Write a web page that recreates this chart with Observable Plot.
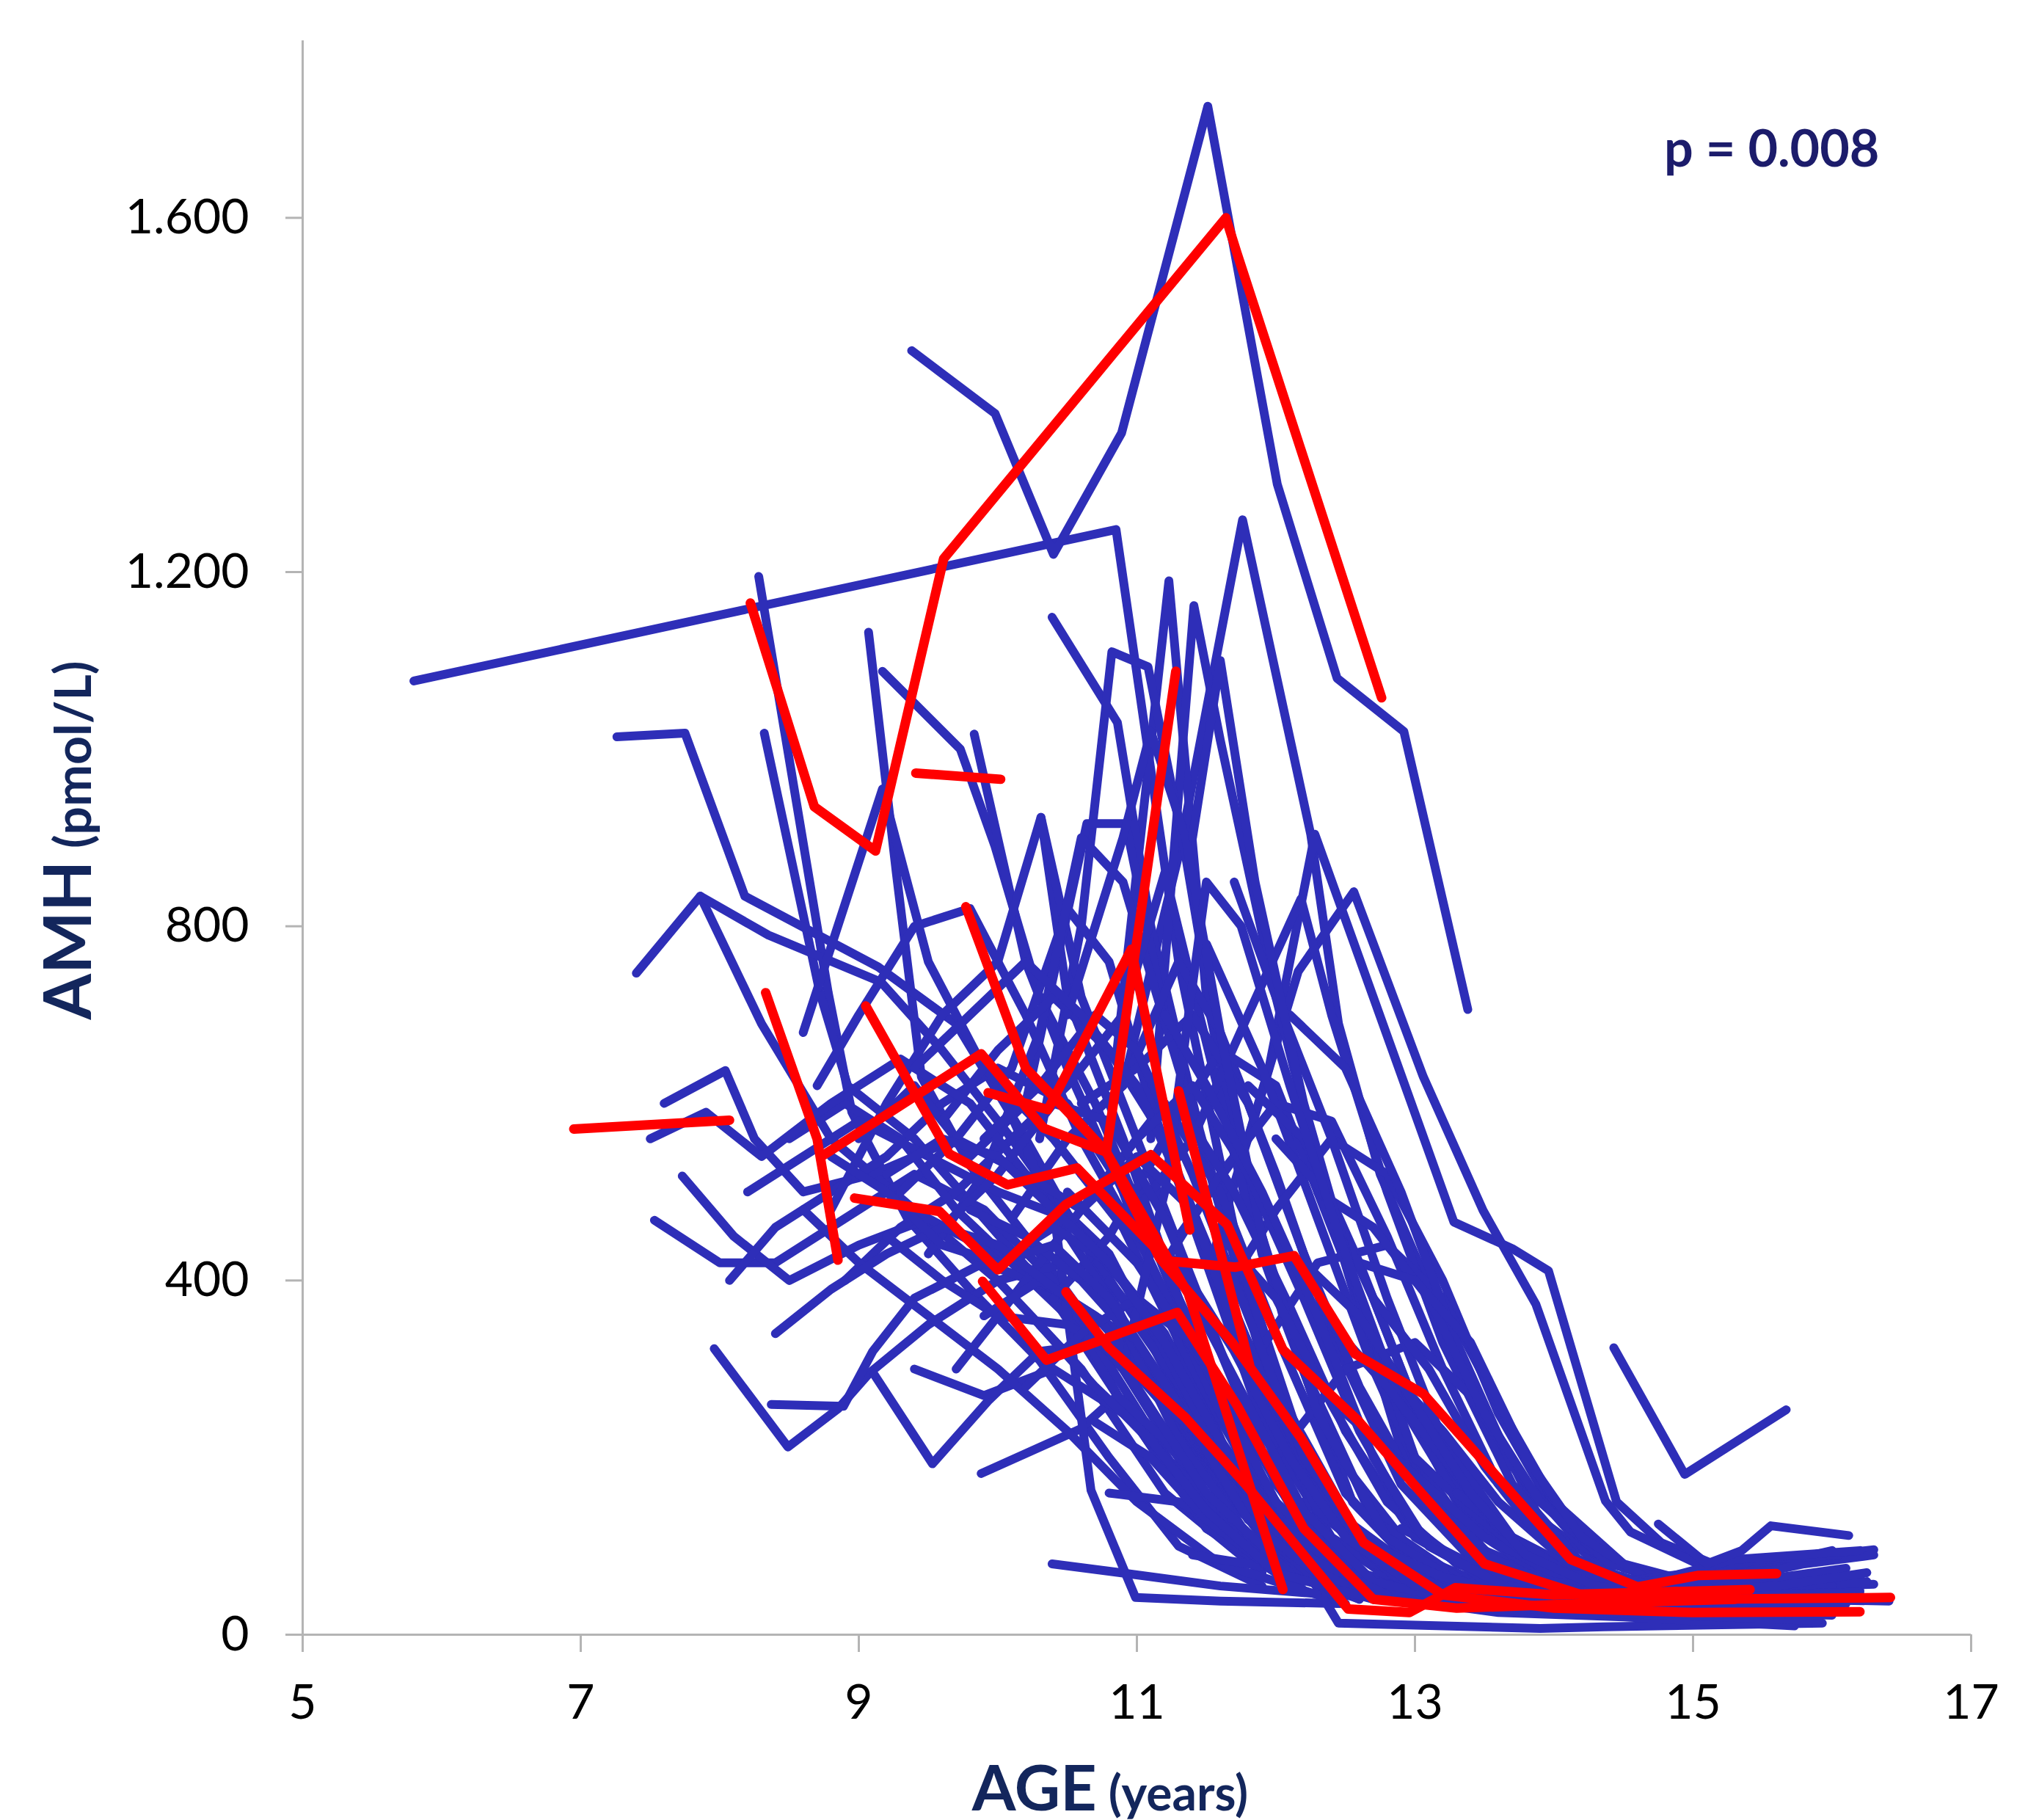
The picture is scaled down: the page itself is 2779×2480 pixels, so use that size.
<!DOCTYPE html>
<html><head><meta charset="utf-8">
<script src="https://cdn.jsdelivr.net/npm/d3@7"></script>
<script src="https://cdn.jsdelivr.net/npm/@observablehq/plot@0.6"></script>
<style>html,body{margin:0;padding:0;background:#fff;} #chart svg{display:block}</style>
</head><body><div id="chart"></div>
<script>
const ageTicks = [5, 7, 9, 11, 13, 15, 17];
const amhTicks = [0, 400, 800, 1200, 1600];
const pValueText = "p = 0.008";

// Blue: individual longitudinal AMH series [age, AMH]
const blueSeries = [
  [[5.80,1077],[10.85,1248],[11.30,760],[11.75,420],[12.30,160],[12.90,60],[13.6,40]],
  [[9.38,1450],[9.98,1379],[10.40,1220],[10.89,1357],[11.51,1726],[12.01,1299],[12.44,1080],[12.92,1020],[13.38,706]],
  [[10.90,620],[11.30,880],[11.76,1259],[12.25,904],[12.45,690],[12.75,520],[13.30,320],[13.90,130],[14.50,60],[15.20,40],[15.90,35]],
  [[11.55,430],[11.95,640],[12.28,904],[13.28,466],[13.70,436],[13.96,411],[14.45,150],[14.77,104],[15.30,70],[16.00,95]],
  [[11.30,450],[11.80,560],[12.16,749],[12.56,839],[13.06,630],[13.49,479],[13.87,373],[14.37,151],[14.55,116],[15.10,75],[16.30,96]],
  [[14.43,324],[14.94,181],[15.67,254]],
  [[10.85,650],[11.23,1190],[11.50,720],[11.90,430],[12.40,210],[13.00,90],[13.60,50],[14.30,30]],
  [[11.10,560],[11.41,1162],[11.60,1010],[12.00,720],[12.40,470],[12.90,210],[13.50,95],[14.20,50],[15.00,35]],
  [[10.39,1149],[10.86,1030],[11.10,800],[11.45,570],[11.90,310],[12.50,130],[13.20,50],[14.0,30]],
  [[10.30,560],[10.60,800],[10.82,1110],[11.08,1093],[11.35,880],[11.65,600],[12.05,360],[12.55,150],[13.10,60],[14.0,40]],
  [[8.28,1195],[8.78,725],[8.95,590],[9.35,470],[9.80,390],[10.30,310],[10.80,200],[11.30,100],[11.90,55]],
  [[8.32,1018],[8.72,725],[8.92,620],[9.40,560],[9.90,470],[10.40,380],[10.90,260],[11.50,120],[12.20,50]],
  [[9.07,1132],[9.27,860],[9.45,630],[9.80,530],[10.30,430],[10.90,300],[11.50,150],[12.20,60]],
  [[9.17,1088],[9.73,1000],[9.98,890],[10.30,720],[10.70,600],[11.10,450],[11.60,250],[12.20,100],[12.90,50]],
  [[9.83,1017],[10.20,760],[10.50,640],[10.90,500],[11.30,330],[11.80,150],[12.40,60]],
  [[10.31,923],[10.50,720],[10.90,560],[11.30,380],[11.80,180],[12.40,70],[13.10,40]],
  [[7.26,1014],[7.75,1018],[8.18,834],[9.14,754],[9.70,690],[10.20,560],[10.70,420],[11.20,260],[11.80,110],[12.50,50]],
  [[7.40,747],[7.86,834],[8.30,690],[8.80,560],[9.40,480],[10.0,400],[10.60,300],[11.20,160],[11.90,70]],
  [[7.86,834],[8.35,790],[9.16,737],[9.60,660],[10.10,560],[10.60,450],[11.10,330],[11.60,180],[12.20,80],[12.90,45]],
  [[7.53,468],[8.0,420],[8.40,420],[8.90,470],[9.40,520],[9.90,480],[10.40,400],[10.90,260],[11.50,120],[12.20,50]],
  [[7.73,518],[8.10,450],[8.50,400],[9.00,440],[9.50,470],[10.10,420],[10.70,330],[11.30,180],[11.90,80],[12.60,40]],
  [[7.60,600],[8.04,637],[8.25,560],[8.60,500],[9.10,520],[9.70,560],[10.20,520],[10.80,430],[11.40,250],[12.00,110],[12.70,50]],
  [[7.96,323],[8.49,212],[8.85,255],[9.08,296],[9.50,350],[10.00,400],[10.50,420],[11.00,330],[11.60,160],[12.30,60]],
  [[8.37,260],[8.89,258],[9.10,320],[9.40,380],[9.90,420],[10.40,390],[10.90,300],[11.50,150],[12.10,60]],
  [[9.11,294],[9.53,193],[9.93,264],[10.30,320],[10.80,330],[11.30,240],[11.90,110],[12.50,50]],
  [[9.88,182],[10.59,232],[10.86,270],[11.20,220],[11.70,120],[12.30,55]],
  [[10.39,80],[10.93,69],[11.60,55],[12.40,45],[13.20,40]],
  [[10.00,620],[10.40,480],[10.67,163],[10.99,42],[11.60,38],[12.50,35]],
  [[8.07,400],[8.40,460],[8.80,500],[9.20,540],[9.60,600],[10.00,640],[10.50,600],[11.00,480],[11.60,280],[12.20,120],[12.80,50]],
  [[8.60,680],[9.17,955],[9.50,760],[9.90,640],[10.40,560],[10.90,460],[11.40,300],[12.00,130],[12.70,55]],
  [[8.70,620],[9.00,700],[9.40,800],[9.80,820],[10.20,700],[10.60,560],[11.10,420],[11.60,250],[12.20,100],[12.90,45]],
  [[8.80,480],[9.20,600],[9.60,700],[10.00,760],[10.31,923],[10.60,720],[11.00,560],[11.50,360],[12.00,170],[12.60,70],[13.30,40]],
  [[9.00,560],[9.40,620],[9.80,540],[10.20,600],[10.64,916],[10.92,916],[11.20,700],[11.60,480],[12.00,280],[12.50,120],[13.20,50]],
  [[9.30,500],[9.70,560],[10.10,640],[10.50,820],[10.80,760],[11.10,600],[11.50,420],[11.90,240],[12.40,110],[13.00,50],[13.8,30]],
  [[9.50,430],[9.90,520],[10.30,680],[10.60,900],[10.90,850],[11.30,640],[11.70,440],[12.10,250],[12.60,110],[13.30,45]],
  [[8.90,400],[9.30,460],[9.70,500],[10.10,560],[10.50,620],[10.90,700],[11.20,860],[11.45,700],[11.80,480],[12.20,300],[12.70,130],[13.40,55],[14.20,35]],
  [[9.60,580],[10.00,660],[10.40,720],[10.80,660],[11.20,560],[11.60,400],[12.00,260],[12.50,120],[13.10,55],[13.9,30]],
  [[8.50,560],[8.90,600],[9.30,560],[9.70,480],[10.10,420],[10.50,380],[10.90,340],[11.40,230],[12.00,100],[12.70,40]],
  [[9.20,450],[9.60,400],[10.00,360],[10.50,350],[11.00,300],[11.50,200],[12.10,90],[12.80,40]],
  [[9.70,300],[10.10,380],[10.50,460],[10.90,540],[11.20,600],[11.60,500],[12.00,340],[12.50,160],[13.10,60],[13.9,35]],
  [[10.10,470],[10.50,560],[10.90,620],[11.30,760],[11.60,680],[12.00,520],[12.40,340],[12.90,170],[13.50,70],[14.30,40]],
  [[10.40,380],[10.80,450],[11.20,560],[11.60,660],[12.00,620],[12.40,460],[12.80,300],[13.30,150],[13.90,70],[14.60,40],[15.40,30]],
  [[10.60,600],[11.00,640],[11.40,700],[11.80,600],[12.20,430],[12.60,280],[13.10,140],[13.70,65],[14.40,40],[15.20,30]],
  [[11.00,480],[11.40,560],[11.80,700],[12.18,831],[12.40,700],[12.80,500],[13.20,330],[13.70,170],[14.20,80],[14.90,45],[15.70,35]],
  [[11.20,420],[11.60,520],[12.00,600],[12.40,580],[12.80,450],[13.20,300],[13.60,170],[14.10,90],[14.70,50],[15.50,40],[16.22,69]],
  [[11.60,380],[12.00,480],[12.40,560],[12.80,520],[13.20,400],[13.60,250],[14.00,140],[14.50,75],[15.10,50],[16.30,57]],
  [[11.80,300],[12.30,420],[12.80,440],[13.20,380],[13.60,260],[14.00,150],[14.50,80],[15.10,55],[16.16,41]],
  [[12.00,200],[12.50,300],[13.00,330],[13.40,270],[13.80,170],[14.30,90],[14.90,55],[15.60,40],[16.41,38]],
  [[10.80,400],[11.20,320],[11.60,220],[12.00,130],[12.45,13],[13.90,7],[14.36,9],[15.93,13]],
  [[11.00,350],[11.40,260],[11.80,160],[12.30,80],[12.90,40],[13.60,25],[14.50,20],[15.73,10]],
  [[10.50,500],[11.00,420],[11.50,300],[12.00,150],[12.60,60],[13.30,35],[14.20,25],[15.20,20],[15.90,16]],
  [[11.30,600],[11.70,500],[12.10,370],[12.50,230],[13.00,110],[13.60,55],[14.40,35],[15.30,25],[16.00,22]],
  [[11.50,780],[11.90,640],[12.30,470],[12.70,300],[13.10,160],[13.60,80],[14.30,45],[15.10,35],[15.90,30]],
  [[11.70,850],[12.00,720],[12.40,560],[12.80,380],[13.20,220],[13.70,110],[14.30,60],[15.00,40],[15.80,35]],
  [[12.10,700],[12.50,640],[12.90,500],[13.30,330],[13.70,190],[14.20,100],[14.80,55],[15.50,45],[16.20,50]],
  [[11.80,620],[12.20,560],[12.60,420],[13.00,260],[13.40,140],[13.90,70],[14.60,45],[15.40,40],[16.10,45]],
  [[12.30,500],[12.70,460],[13.10,380],[13.50,250],[13.90,150],[14.40,80],[15.00,55],[15.80,50]],
  [[12.60,420],[13.00,400],[13.40,330],[13.80,200],[14.20,110],[14.70,60],[15.30,45],[16.00,40]],
  [[12.00,560],[12.35,500],[12.70,380],[13.10,220],[13.50,110],[14.00,60],[14.70,40],[15.50,30]],
  [[9.40,300],[9.90,270],[10.40,300],[10.90,250],[11.40,170],[12.00,80],[12.70,40],[13.50,30]],
  [[8.60,480],[9.00,420],[9.50,360],[10.00,300],[10.50,230],[11.00,150],[11.60,80],[12.30,45]],
  [[9.90,360],[10.30,400],[10.70,360],[11.10,290],[11.60,180],[12.20,80],[12.90,40]],
  [[10.20,280],[10.60,340],[11.00,380],[11.40,330],[11.80,230],[12.30,120],[12.90,55],[13.60,35]],
  [[10.80,160],[11.30,150],[11.80,110],[12.40,60],[13.10,40],[14.00,30],[15.00,25],[15.69,23]],
  [[11.40,90],[12.00,75],[12.60,60],[13.30,50],[14.10,40],[15.00,38],[16.25,60]],
  [[10.50,700],[10.90,900],[11.10,1020],[11.35,900],[11.60,680],[11.90,450],[12.30,250],[12.80,110],[13.40,50],[14.2,35]],
  [[11.40,900],[11.60,1100],[11.85,850],[12.20,600],[12.60,380],[13.00,200],[13.50,90],[14.10,50]],
  [[10.90,300],[11.20,500],[11.50,850],[11.75,800],[12.10,620],[12.50,430],[12.90,260],[13.40,130],[14.00,65],[14.80,40]],
  [[12.50,250],[13.00,180],[13.50,110],[14.00,70],[14.60,55],[15.20,60],[15.80,80],[16.30,90]],
  [[12.80,300],[13.20,230],[13.60,150],[14.00,95],[14.50,60],[15.00,70],[15.50,85],[16.05,90]],
  [[13.00,200],[13.40,140],[13.80,90],[14.30,60],[14.80,45],[15.40,60],[16.10,75]],
  [[12.20,150],[12.70,100],[13.20,65],[13.80,45],[14.50,35],[15.20,30],[16.00,28]],
  [[13.30,160],[13.70,110],[14.20,70],[14.70,60],[15.30,85],[16.20,95]],
  [[12.90,120],[13.40,80],[14.00,55],[14.60,40],[15.30,45],[16.00,55]],
  [[14.75,125],[15.10,80],[15.35,95],[15.56,123],[16.12,112]],
  [[7.50,560],[7.90,590],[8.30,540],[8.80,600],[9.30,650],[9.80,600],[10.30,500],[10.80,380],[11.30,220],[11.90,90],[12.60,40]],
  [[8.20,500],[8.60,540],[9.00,580],[9.50,540],[10.00,500],[10.50,470],[11.00,380],[11.50,230],[12.10,90],[12.80,40]],
  [[9.60,460],[10.00,520],[10.40,600],[10.80,580],[11.20,470],[11.60,320],[12.00,170],[12.50,70],[13.20,35]],
  [[10.20,520],[10.60,480],[11.00,540],[11.40,480],[11.80,330],[12.20,180],[12.70,80],[13.40,40]],
  [[9.90,560],[10.30,620],[10.70,700],[11.00,660],[11.40,520],[11.80,360],[12.20,200],[12.70,90],[13.30,45],[14.20,30]],
  [[10.70,240],[11.10,200],[11.50,130],[12.00,70],[12.60,45],[13.40,35],[14.40,30]],
  [[11.20,260],[11.60,200],[12.00,130],[12.50,70],[13.10,45],[14.00,35],[15.00,30],[16.10,35]],
  [[11.60,450],[12.00,380],[12.40,260],[12.80,150],[13.30,80],[14.00,45],[14.80,35],[15.60,30]],
  [[12.40,350],[12.80,280],[13.20,200],[13.60,120],[14.10,70],[14.70,50],[15.40,45],[16.20,48]],
  [[8.40,340],[8.80,390],[9.20,430],[9.60,460],[10.00,440],[10.50,380],[11.00,280],[11.50,160],[12.10,70]],
  [[9.40,640],[9.80,700],[10.20,760],[10.60,700],[11.00,620],[11.40,480],[11.80,300],[12.30,140],[12.90,60]],
  [[9.80,480],[10.20,450],[10.60,400],[11.00,330],[11.40,230],[11.80,130],[12.30,60],[13.00,35]],
  [[10.00,420],[10.40,460],[10.80,420],[11.20,340],[11.60,220],[12.00,110],[12.50,55],[13.20,35]],
  [[10.60,520],[11.00,460],[11.40,380],[11.80,260],[12.20,140],[12.70,60],[13.40,35]],
  [[10.30,350],[10.70,280],[11.10,220],[11.50,140],[12.00,70],[12.70,40],[13.60,30]],
  [[11.00,560],[11.40,620],[11.80,520],[12.20,380],[12.60,230],[13.00,120],[13.50,60],[14.20,40],[15.00,30]],
  [[11.20,700],[11.50,620],[11.90,500],[12.30,360],[12.70,200],[13.10,100],[13.70,50],[14.50,35]],
  [[10.90,460],[11.30,420],[11.70,320],[12.10,200],[12.50,110],[13.00,55],[13.80,35],[14.80,30]],
  [[9.20,520],[9.60,560],[10.00,540],[10.40,480],[10.80,420],[11.20,330],[11.70,190],[12.20,90],[12.80,45]],
  [[8.80,540],[9.20,500],[9.60,440],[10.00,420],[10.40,440],[10.80,380],[11.30,260],[11.80,130],[12.40,55]],
  [[12.20,420],[12.60,360],[13.00,260],[13.40,160],[13.80,90],[14.30,55],[14.90,40],[15.70,35]],
  [[12.70,380],[13.10,300],[13.50,190],[13.90,110],[14.40,65],[15.00,50],[15.60,55],[16.25,70]]
];

// Red: highlighted series [age, AMH]
const redSeries = [
  [[8.22,1165],[8.68,935],[9.12,885],[9.61,1215],[11.64,1600],[11.72,1560],[12.76,1058]],
  [[9.41,973],[10.02,966]],
  [[6.95,571],[8.07,581]],
  [[8.33,725],[8.70,560],[8.85,423]],
  [[9.05,710],[9.65,543],[10.07,508],[10.57,527],[11.22,422],[11.71,415],[12.13,428],[12.57,317],[13.06,272],[14.12,85],[14.60,54],[15.04,67],[15.60,69]],
  [[8.74,541],[9.88,656],[10.33,572],[10.78,545],[11.28,1088]],
  [[9.77,822],[10.20,640],[10.78,545],[11.37,385],[12.05,51]],
  [[9.93,612],[10.36,593],[10.96,774],[11.38,457]],
  [[8.97,493],[9.58,478],[10.00,412],[10.49,486],[11.10,542],[11.65,463],[12.05,322],[12.59,242],[12.99,170],[13.50,80],[14.20,45],[15.00,40],[16.42,42]],
  [[11.30,614],[11.81,305]],
  [[9.89,399],[10.35,310],[11.29,364],[11.72,259],[12.20,120],[12.70,40],[13.30,30],[14.20,35],[15.30,40]],
  [[10.49,387],[10.80,324],[11.35,245],[11.78,170],[12.52,29],[12.96,25],[13.29,53],[14.00,45],[15.41,51]],
  [[10.40,610],[10.78,545],[11.16,426],[11.69,329],[12.18,222],[12.63,104],[13.20,45],[14.00,30],[15.00,25],[16.20,26]]
];

const toRows = (series, prefix) => series.flatMap((s, i) => s.map(([age, amh]) => ({id: prefix + i, age, amh})));
const blueRows = toRows(blueSeries, "b");
const redRows = toRows(redSeries, "r");

const fmt = d => d >= 1000 ? d3.format(",")(d).replace(/,/g, ".") : String(d);
const FONT = "Lato, 'Open Sans', sans-serif";
const GREY = "#b4b4b4";

const svgEl = Plot.plot({
  width: 2779, height: 2480,
  marginLeft: 412, marginRight: 93, marginTop: 55, marginBottom: 253,
  x: {domain: [5, 17], label: null},
  y: {domain: [0, 1800], label: null},
  style: {background: "#fff", fontFamily: FONT, overflow: "visible"},
  marks: [
    Plot.ruleX([5], {stroke: GREY, strokeWidth: 3}),
    Plot.ruleY([0], {stroke: GREY, strokeWidth: 3}),
    Plot.axisY(amhTicks, {tickSize: 23, tickPadding: 50, stroke: GREY, strokeWidth: 3, color: "#000", fontSize: 66, fontFamily: FONT, tickFormat: fmt, label: null}),
    Plot.axisX(ageTicks, {tickSize: 24, tickPadding: 44, stroke: GREY, strokeWidth: 3, color: "#000", fontSize: 66, fontFamily: FONT, tickFormat: d => String(d), label: null}),
    Plot.line(blueRows, {x: "age", y: "amh", z: "id", stroke: "#2e2eb8", strokeWidth: 12, strokeLinejoin: "round", strokeLinecap: "round"}),
    Plot.line(redRows, {x: "age", y: "amh", z: "id", stroke: "#ff0000", strokeWidth: 13, strokeLinejoin: "round", strokeLinecap: "round"})
  ]
});
document.getElementById("chart").appendChild(svgEl);

const svg = d3.select(svgEl);
// axis titles
const xt = svg.append("text").attr("x", 1513).attr("y", 2467).attr("text-anchor", "middle")
  .attr("fill", "#13265c").attr("font-family", FONT).attr("font-weight", "bold");
xt.append("tspan").attr("font-size", 86).text("AGE");
xt.append("tspan").attr("font-size", 66).text(" (years)");

const yt = svg.append("text").attr("transform", "translate(124,1145) rotate(-90)").attr("text-anchor", "middle")
  .attr("fill", "#13265c").attr("font-family", FONT).attr("font-weight", "bold");
yt.append("tspan").attr("font-size", 90).text("AMH");
yt.append("tspan").attr("font-size", 68).text(" (pmol/L)");

svg.append("text").attr("x", 2268).attr("y", 227).attr("text-anchor", "start").attr("fill", "#1c1c6b")
  .attr("font-family", FONT).attr("font-weight", "bold").attr("font-size", 70).text(pValueText);
</script></body></html>
